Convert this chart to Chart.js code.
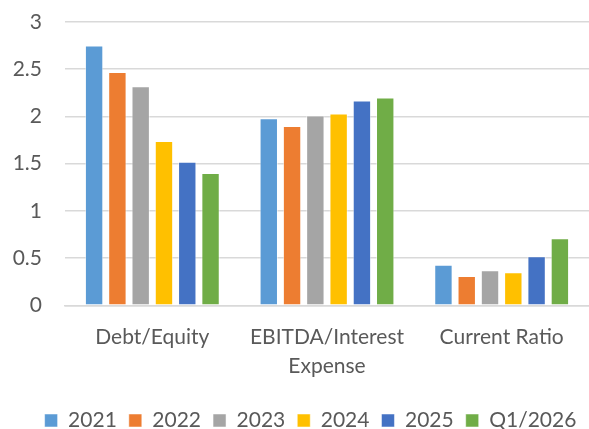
<!DOCTYPE html>
<html>
<head>
<meta charset="utf-8">
<script src="https://cdn.jsdelivr.net/npm/chart.js@4.4.1/dist/chart.umd.min.js"></script>
<style>
  html, body { margin: 0; padding: 0; background: #fff; }
  #wrap { width: 589px; height: 429px; }
</style>
</head>
<body>
<div id="wrap"><canvas id="myChart"></canvas></div>
<script>
// ratios per category
var categories = ['Debt/Equity', ['EBITDA/Interest', 'Expense'], 'Current Ratio'];
var seriesNames = ['2021', '2022', '2023', '2024', '2025', 'Q1/2026'];
var v2021 = [2.75, 1.98, 0.43];
var v2022 = [2.47, 1.90, 0.31];
var v2023 = [2.32, 2.01, 0.37];
var v2024 = [1.74, 2.03, 0.35];
var v2025 = [1.52, 2.17, 0.52];
var vQ12026 = [1.40, 2.20, 0.71];
var yTicks = [0, 0.5, 1, 1.5, 2, 2.5, 3];

var colors = ['#5B9BD5', '#ED7D31', '#A5A5A5', '#FFC000', '#4472C4', '#70AD47'];
var values = [v2021, v2022, v2023, v2024, v2025, vQ12026];

var datasets = [];
for (var i = 0; i < seriesNames.length; i++) {
  datasets.push({
    label: seriesNames[i],
    data: values[i],
    backgroundColor: colors[i],
    borderColor: 'rgba(255,255,255,0.5)',
    borderWidth: 1,
    categoryPercentage: 0.8,
    barPercentage: 0.79
  });
}

var textColor = '#595959';
var fontFam = 'Lato, "Open Sans", sans-serif';

// legend in the original sits a bit right of the canvas centre
var shiftLegend = {
  id: 'shiftLegend',
  afterLayout: function (chart) {
    chart.legend.left += 16;
    chart.legend.right += 16;
  }
};

const config = {
  type: 'bar',
  data: { labels: categories, datasets: datasets },
  options: {
    responsive: true,
    maintainAspectRatio: false,
    animation: false,
    layout: { padding: { top: 22, left: 0, right: 0, bottom: -12 } },
    plugins: {
      tooltip: { enabled: false },
      legend: {
        position: 'bottom',
        labels: {
          color: textColor,
          font: { family: fontFam, size: 21 },
          boxWidth: 13,
          boxHeight: 13,
          padding: 12
        }
      }
    },
    scales: {
      x: {
        grid: { display: false, drawTicks: false },
        border: { color: '#D9D9D9', width: 1.5 },
        ticks: {
          color: textColor,
          font: { family: fontFam, size: 21, lineHeight: 1.35 },
          padding: 18,
          maxRotation: 0,
          autoSkip: false
        }
      },
      y: {
        min: 0,
        max: 3,
        afterFit: function (scale) { scale.width = 65; },
        afterBuildTicks: function (scale) {
          scale.ticks = yTicks.map(function (t) { return { value: t }; });
        },
        grid: {
          color: '#D9D9D9',
          lineWidth: 1.5,
          drawTicks: true,
          tickLength: 23,
          tickColor: 'rgba(0,0,0,0)'
        },
        border: { display: false },
        ticks: {
          color: textColor,
          font: { family: fontFam, size: 21 },
          padding: 0,
          callback: function (v) { return String(v); }
        }
      }
    }
  },
  plugins: [shiftLegend]
};

new Chart(document.getElementById('myChart'), config);
</script>
</body>
</html>
